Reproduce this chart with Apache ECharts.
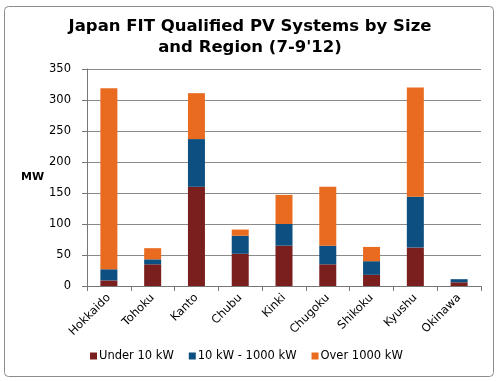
<!DOCTYPE html>
<html><head><meta charset="utf-8">
<script src="https://cdn.jsdelivr.net/npm/echarts@6/dist/echarts.min.js"></script>
<style>html,body{margin:0;padding:0;background:#fff}#c{width:500px;height:381px}</style>
</head><body><div id="c"></div>
<script>
const categories = ['Hokkaido','Tohoku','Kanto','Chubu','Kinki','Chugoku','Shikoku','Kyushu','Okinawa'];
const under10 = [9, 35, 160, 52, 65, 35, 18, 62, 6];
const mid10to1000 = [18, 8, 77, 29, 35, 30, 22, 82, 5];
const over1000 = [292, 18, 74, 10, 47, 95, 23, 176, 0];
const yTicks = [0, 50, 100, 150, 200, 250, 300, 350];

const font = '"DejaVu Sans", Verdana, sans-serif';
const chart = echarts.init(document.getElementById('c'));
const mk = (name, data, color) => ({
  name, type: 'bar', stack: 'a', data, barWidth: 17,
  itemStyle: { color }, emphasis: { disabled: true }
});
chart.setOption({
  animation: false,
  title: {
    text: 'Japan FIT Qualified PV Systems by Size\nand Region (7-9\'12)',
    left: 'center', top: 11,
    textStyle: { fontFamily: font, fontSize: 16.5, fontWeight: 'bold', color: '#000', lineHeight: 21 }
  },
  graphic: [{
    type: 'rect', shape: { x: 4.5, y: 6.5, width: 489, height: 370, r: 4 },
    style: { fill: 'none', stroke: '#8c8c8c', lineWidth: 1 }, silent: true, z: -1
  }, {
    type: 'text', left: 21, top: 172,
    style: { text: 'MW', font: 'bold 11px ' + font, fill: '#000' }
  }],
  legend: {
    bottom: 14, left: 85, itemWidth: 7, itemHeight: 7, itemGap: 15,
    icon: 'rect',
    textStyle: { fontFamily: font, fontSize: 11.5, color: '#000', padding: [0, 0, 0, -3] },
    data: ['Under 10 kW', '10 kW - 1000 kW', 'Over 1000 kW']
  },
  grid: { left: 87, right: 19, top: 69, bottom: 95 },
  xAxis: {
    type: 'category', data: categories,
    axisLine: { lineStyle: { color: '#777' } },
    axisTick: { show: true, length: 5, lineStyle: { color: '#777' } },
    axisLabel: { rotate: 45, fontFamily: font, fontSize: 11.5, color: '#000', margin: 10 }
  },
  yAxis: {
    type: 'value', min: 0, max: 350, interval: 50,
    axisLine: { show: true, lineStyle: { color: '#777' } },
    axisTick: { show: true, length: 5, lineStyle: { color: '#777' } },
    splitLine: { lineStyle: { color: '#8a8a8a' } },
    axisLabel: { fontFamily: font, fontSize: 11.5, color: '#000', margin: 16,
      formatter: v => yTicks.includes(v) ? String(v) : '' }
  },
  series: [
    mk('Under 10 kW', under10, '#7b1e1e'),
    mk('10 kW - 1000 kW', mid10to1000, '#0d4f80'),
    mk('Over 1000 kW', over1000, '#e96b1f')
  ]
});
</script></body></html>
